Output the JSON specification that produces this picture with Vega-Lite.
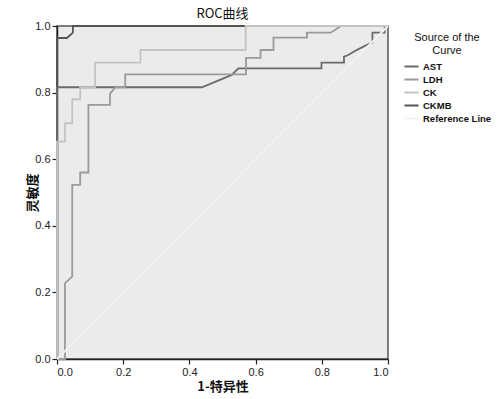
{
  "$schema": "https://vega.github.io/schema/vega-lite/v6.json",
  "width": 331,
  "height": 333,
  "autosize": {"type": "none"},
  "padding": {"left": 57, "top": 26, "right": 108, "bottom": 40},
  "background": "#ffffff",
  "title": {
    "text": "ROC曲线",
    "font": "Noto Sans CJK SC",
    "fontSize": 13,
    "fontWeight": "normal",
    "color": "#111111",
    "anchor": "middle",
    "offset": -1
  },
  "config": {
    "view": {"fill": "#ebebeb", "stroke": "#555555", "strokeWidth": 1.5},
    "axis": {
      "grid": false,
      "domainColor": "#222222",
      "domainWidth": 1.5,
      "tickColor": "#222222",
      "tickWidth": 1.2,
      "tickSize": 5,
      "labelFont": "Liberation Sans",
      "labelFontSize": 11,
      "labelColor": "#222222",
      "titleFont": "Noto Sans CJK SC",
      "titleFontSize": 13,
      "titleFontWeight": "bold",
      "titleColor": "#111111"
    }
  },
  "data": {
    "values": [
      {"series": "CKMB", "i": 1, "fpr": 0, "tpr": 0},
      {"series": "CKMB", "i": 2, "fpr": 0, "tpr": 0.964},
      {"series": "CKMB", "i": 3, "fpr": 0.03, "tpr": 0.964},
      {"series": "CKMB", "i": 4, "fpr": 0.048, "tpr": 0.98},
      {"series": "CKMB", "i": 5, "fpr": 0.048, "tpr": 1},
      {"series": "CKMB", "i": 6, "fpr": 1, "tpr": 1},

      {"series": "AST", "i": 1, "fpr": 0, "tpr": 0},
      {"series": "AST", "i": 2, "fpr": 0, "tpr": 0.816},
      {"series": "AST", "i": 3, "fpr": 0.438, "tpr": 0.816},
      {"series": "AST", "i": 4, "fpr": 0.528, "tpr": 0.853},
      {"series": "AST", "i": 5, "fpr": 0.548, "tpr": 0.873},
      {"series": "AST", "i": 6, "fpr": 0.799, "tpr": 0.873},
      {"series": "AST", "i": 7, "fpr": 0.799, "tpr": 0.89},
      {"series": "AST", "i": 8, "fpr": 0.867, "tpr": 0.89},
      {"series": "AST", "i": 9, "fpr": 0.867, "tpr": 0.908},
      {"series": "AST", "i": 10, "fpr": 0.88, "tpr": 0.913},
      {"series": "AST", "i": 11, "fpr": 0.9, "tpr": 0.925},
      {"series": "AST", "i": 12, "fpr": 0.92, "tpr": 0.935},
      {"series": "AST", "i": 13, "fpr": 0.935, "tpr": 0.943},
      {"series": "AST", "i": 14, "fpr": 0.953, "tpr": 0.95},
      {"series": "AST", "i": 15, "fpr": 0.953, "tpr": 0.98},
      {"series": "AST", "i": 16, "fpr": 0.99, "tpr": 0.98},
      {"series": "AST", "i": 17, "fpr": 0.99, "tpr": 1},
      {"series": "AST", "i": 18, "fpr": 1, "tpr": 1},

      {"series": "LDH", "i": 1, "fpr": 0, "tpr": 0},
      {"series": "LDH", "i": 2, "fpr": 0.024, "tpr": 0},
      {"series": "LDH", "i": 3, "fpr": 0.024, "tpr": 0.227},
      {"series": "LDH", "i": 4, "fpr": 0.046, "tpr": 0.248},
      {"series": "LDH", "i": 5, "fpr": 0.046, "tpr": 0.523},
      {"series": "LDH", "i": 6, "fpr": 0.07, "tpr": 0.523},
      {"series": "LDH", "i": 7, "fpr": 0.07, "tpr": 0.56},
      {"series": "LDH", "i": 8, "fpr": 0.095, "tpr": 0.56},
      {"series": "LDH", "i": 9, "fpr": 0.095, "tpr": 0.763},
      {"series": "LDH", "i": 10, "fpr": 0.16, "tpr": 0.763},
      {"series": "LDH", "i": 11, "fpr": 0.16, "tpr": 0.796},
      {"series": "LDH", "i": 12, "fpr": 0.176, "tpr": 0.816},
      {"series": "LDH", "i": 13, "fpr": 0.206, "tpr": 0.816},
      {"series": "LDH", "i": 14, "fpr": 0.206, "tpr": 0.855},
      {"series": "LDH", "i": 15, "fpr": 0.571, "tpr": 0.855},
      {"series": "LDH", "i": 16, "fpr": 0.571, "tpr": 0.904},
      {"series": "LDH", "i": 17, "fpr": 0.615, "tpr": 0.904},
      {"series": "LDH", "i": 18, "fpr": 0.615, "tpr": 0.928},
      {"series": "LDH", "i": 19, "fpr": 0.654, "tpr": 0.928},
      {"series": "LDH", "i": 20, "fpr": 0.654, "tpr": 0.965},
      {"series": "LDH", "i": 21, "fpr": 0.755, "tpr": 0.965},
      {"series": "LDH", "i": 22, "fpr": 0.755, "tpr": 0.98},
      {"series": "LDH", "i": 23, "fpr": 0.827, "tpr": 0.98},
      {"series": "LDH", "i": 24, "fpr": 0.858, "tpr": 1},
      {"series": "LDH", "i": 25, "fpr": 1, "tpr": 1},

      {"series": "CK", "i": 1, "fpr": 0, "tpr": 0},
      {"series": "CK", "i": 2, "fpr": 0, "tpr": 0.653},
      {"series": "CK", "i": 3, "fpr": 0.024, "tpr": 0.653},
      {"series": "CK", "i": 4, "fpr": 0.024, "tpr": 0.708},
      {"series": "CK", "i": 5, "fpr": 0.046, "tpr": 0.708},
      {"series": "CK", "i": 6, "fpr": 0.046, "tpr": 0.78},
      {"series": "CK", "i": 7, "fpr": 0.07, "tpr": 0.78},
      {"series": "CK", "i": 8, "fpr": 0.07, "tpr": 0.816},
      {"series": "CK", "i": 9, "fpr": 0.115, "tpr": 0.816},
      {"series": "CK", "i": 10, "fpr": 0.115, "tpr": 0.89},
      {"series": "CK", "i": 11, "fpr": 0.252, "tpr": 0.89},
      {"series": "CK", "i": 12, "fpr": 0.252, "tpr": 0.928},
      {"series": "CK", "i": 13, "fpr": 0.57, "tpr": 0.928},
      {"series": "CK", "i": 14, "fpr": 0.57, "tpr": 1},
      {"series": "CK", "i": 15, "fpr": 1, "tpr": 1},

      {"series": "Reference Line", "i": 1, "fpr": 0, "tpr": 0},
      {"series": "Reference Line", "i": 2, "fpr": 1, "tpr": 1}
    ]
  },
  "mark": {"type": "line", "strokeWidth": 1.8, "clip": false},
  "encoding": {
    "x": {
      "field": "fpr",
      "type": "quantitative",
      "scale": {"domain": [0, 1], "nice": false, "zero": false},
      "axis": {"title": "1-特异性", "values": [0, 0.2, 0.4, 0.6, 0.8, 1], "format": ".1f", "titlePadding": 3}
    },
    "y": {
      "field": "tpr",
      "type": "quantitative",
      "scale": {"domain": [0, 1], "nice": false, "zero": false},
      "axis": {"title": "灵敏度", "values": [0, 0.2, 0.4, 0.6, 0.8, 1], "format": ".1f", "titlePadding": -5}
    },
    "order": {"field": "i", "type": "quantitative"},
    "color": {
      "field": "series",
      "type": "nominal",
      "scale": {
        "domain": ["AST", "LDH", "CK", "CKMB", "Reference Line"],
        "range": ["#6a6a6a", "#9a9a9a", "#c4c4c4", "#555555", "#f2f2f2"]
      },
      "legend": {
        "title": ["Source of the", "Curve"],
        "orient": "none",
        "legendX": 346,
        "legendY": 6,
        "titleFont": "Liberation Sans",
        "titleFontSize": 11,
        "titleFontWeight": "normal",
        "titleColor": "#111111",
        "titleAlign": "center",
        "titleAnchor": "middle",
        "titlePadding": 2,
        "labelFont": "Liberation Sans",
        "labelFontSize": 9.5,
        "labelFontWeight": "bold",
        "labelColor": "#111111",
        "symbolType": "stroke",
        "symbolStrokeWidth": 2,
        "symbolSize": 200,
        "rowPadding": 0,
        "labelOffset": 3
      }
    }
  }
}
